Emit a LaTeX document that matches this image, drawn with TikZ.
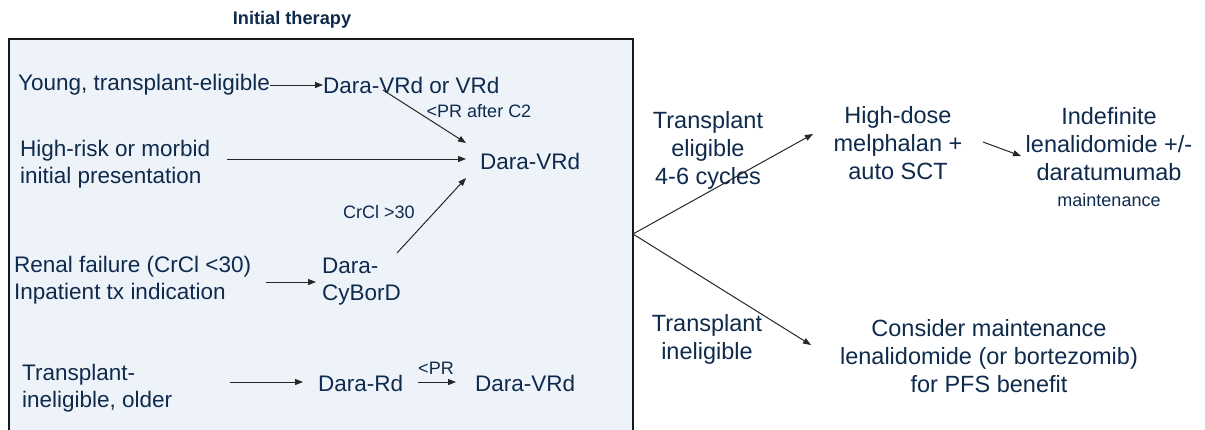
\documentclass[tikz,border=0pt]{standalone}
\usepackage{fontspec}
\setmainfont{Liberation Sans}
\usetikzlibrary{arrows.meta}
\definecolor{navy}{HTML}{0E2A4C}
\definecolor{panel}{HTML}{EEF3FA}
\tikzset{
  txt/.style={inner sep=0pt, text=navy, font=\fontsize{22.5}{27}\selectfont, align=left},
  rtxt/.style={inner sep=0pt, text=navy, font=\fontsize{23.5}{28}\selectfont, align=center},
  small/.style={inner sep=0pt, text=navy, font=\fontsize{18}{21}\selectfont},
  flow/.style={draw=black!85, line width=1pt, -{Triangle[length=8pt,width=6pt]}}
}
\begin{document}
\begin{tikzpicture}[x=1pt,y=-1pt]
\useasboundingbox (0,0) rectangle (1205,429);
\clip (0,0) rectangle (1205,429);

% panel of initial therapy options
\node[inner sep=0pt, text=navy, font=\fontsize{18.2}{21}\selectfont\bfseries] (title) at (292,20) {Initial therapy};
\draw[fill=panel, draw=black!90, line width=1.2pt] (9,39) rectangle (633,440);

% left column: patient groups
\node[txt, anchor=west] (young) at (18,85) {Young, transplant-eligible};
\node[txt, anchor=west] (high) at (20,164) {High-risk or morbid\\initial presentation};
\node[txt, anchor=west] (renal) at (14,280) {Renal failure (CrCl <30)\\Inpatient tx indication};
\node[txt, anchor=west] (older) at (22,388) {Transplant-\\ineligible, older};

% regimens
\node[txt, anchor=west] (dvr) at (323,85) {Dara-VRd or VRd};
\node[txt, anchor=west] (dvrA) at (480,161) {Dara-VRd};
\node[txt, anchor=west] (cybor) at (322,282) {Dara-\\CyBorD};
\node[txt, anchor=west] (drd) at (318,383) {Dara-Rd};
\node[txt, anchor=west] (dvrB) at (475,383) {Dara-VRd};

% arrow labels
\node[small] (lpr) at (479,111) {<PR after C2};
\node[small] (lcr) at (379,212) {CrCl >30};
\node[small] (lpr2) at (436,368) {<PR};

% arrow end points
\coordinate (a1s) at (383,90);
\coordinate (a1e) at (466,143);
\coordinate (a2s) at (227,159);
\coordinate (a2e) at (466,159);
\coordinate (a3s) at (397,253);
\coordinate (a3e) at (466,178);
\coordinate (a4s) at (266,282);
\coordinate (a4e) at (316,282);
\coordinate (a5s) at (230,382);
\coordinate (a5e) at (303,382);
\coordinate (a6s) at (418,382);
\coordinate (a6e) at (456,382);

\draw[flow] (young.east) -- (dvr.west);
\draw[flow] (a1s) -- (a1e);
\draw[flow] (a2s) -- (a2e);
\draw[flow] (a3s) -- (a3e);
\draw[flow] (a4s) -- (a4e);
\draw[flow] (a5s) -- (a5e);
\draw[flow] (a6s) -- (a6e);

% branching after initial therapy
\coordinate (junc) at (633,234);
\coordinate (upEnd) at (813,134);
\coordinate (dnEnd) at (811,345);
\node[rtxt] (elig) at (708,150) {Transplant\\eligible\\4-6 cycles};
\node[rtxt] (inelig) at (707,339) {Transplant\\ineligible};
\draw[flow] (junc) -- (upEnd);
\draw[flow] (junc) -- (dnEnd);

% consolidation and maintenance
\node[rtxt] (hdm) at (898,143) {High-dose\\melphalan +\\auto SCT};
\node[rtxt] (indef) at (1109,144) {Indefinite\\lenalidomide +/-\\daratumumab};
\node[small] (maint) at (1109,200) {maintenance};
\node[rtxt] (cons) at (989,356) {Consider maintenance\\lenalidomide (or bortezomib)\\for PFS benefit};
\coordinate (h1s) at (983,142);
\coordinate (h1e) at (1021,156);
\draw[flow] (h1s) -- (h1e);
\end{tikzpicture}
\end{document}
